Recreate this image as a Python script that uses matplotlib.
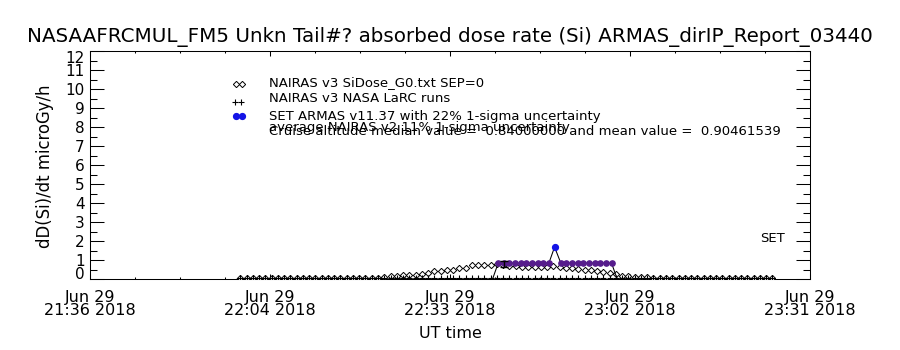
import matplotlib
matplotlib.use('Agg')
import matplotlib.pyplot as plt
import numpy as np
from matplotlib.lines import Line2D
from matplotlib.ticker import MultipleLocator, FixedLocator

plt.rcParams['font.family'] = ['DejaVu Sans']

title = "NASAAFRCMUL_FM5 Unkn Tail#? absorbed dose rate (Si) ARMAS_dirIP_Report_03440"
ylabel = "dD(Si)/dt microGy/h"
xlabel = "UT time"
legend_texts = ["NAIRAS v3 SiDose_G0.txt SEP=0",
                "NAIRAS v3 NASA LaRC runs",
                "SET ARMAS v11.37 with 22% 1-sigma uncertainty",
                "average NAIRAS v2 11% 1-sigma uncertainty",
                "Cruise altitude median value =  0.84000000 and mean value =  0.90461539"]

# x axis in minutes after 21:36 UT, 29 Jun 2018
x_tick_pos = [0, 28.75, 57.5, 86.25, 115]
x_tick_labels = ["Jun 29\n21:36 2018", "Jun 29\n22:04 2018", "Jun 29\n22:33 2018",
                 "Jun 29\n23:02 2018", "Jun 29\n23:31 2018"]
y_ticks = list(range(0, 13))

# NAIRAS v3 SEP=0 (diamonds), one value per minute from minute 24 to 109
nairas_t = np.arange(24, 110)
nairas_v = [0.07] * 23 + [
    0.12, 0.15, 0.17, 0.20, 0.22, 0.23, 0.25, 0.33, 0.40, 0.42,   # 47-56
    0.45, 0.50, 0.56, 0.60, 0.72, 0.75, 0.76, 0.76, 0.77, 0.72,   # 57-66
    0.68, 0.66, 0.64, 0.62, 0.62, 0.62, 0.64, 0.68, 0.65, 0.60,   # 67-76
    0.58, 0.52, 0.50, 0.45, 0.40, 0.37, 0.30, 0.25, 0.18, 0.14,   # 77-86
    0.12, 0.12, 0.10] + [0.07] * 20

# NAIRAS LaRC runs (+), near zero
larc_t = np.arange(24, 110)
larc_v = [0.03] * 86

# ARMAS
armas_t = [23.5, 64.3, 65.2, 66.1, 67.0, 67.9, 68.8, 69.7, 70.6, 71.5, 72.4, 73.3,
           74.2, 75.2, 76.1, 77.0, 77.9, 78.8, 79.7, 80.6, 81.5, 82.4, 83.3, 84.2, 109.0]
armas_v = [0.0, 0.0, 0.84, 0.84, 0.84, 0.84, 0.84, 0.84, 0.84, 0.84, 0.84, 0.84,
           1.68, 0.84, 0.84, 0.84, 0.84, 0.84, 0.84, 0.84, 0.84, 0.84, 0.84, 0.0, 0.0]
cruise_flag = [0, 0, 1, 1, 1, 1, 1, 1, 1, 1, 1, 1,
               0, 1, 1, 1, 1, 1, 1, 1, 1, 1, 1, 0, 0]

# average NAIRAS uncertainty bar
err_t = [66.2]
err_v = [0.80]
err_e = [0.15]

PURPLE = '#561c8c'
BLUE = '#1414e6'
LW = 0.75

fig = plt.figure(figsize=(9, 3.5), dpi=100)
ax = fig.add_axes([90/900, 71/350, 720/900, 228/350])
ax.set_xlim(0, 115)
ax.set_ylim(0, 12)

ax.plot(nairas_t, nairas_v, linestyle='none', marker='D', markersize=3.2,
        markerfacecolor='white', markeredgecolor='black', markeredgewidth=0.7, zorder=3)
ax.plot(larc_t, larc_v, linestyle='none', marker='+', markersize=4,
        color='black', markeredgewidth=0.8, zorder=3)
ax.plot(armas_t, armas_v, color='black', linewidth=LW, zorder=4)
ct = [t for t, f in zip(armas_t, cruise_flag) if f]
cv = [v for v, f in zip(armas_v, cruise_flag) if f]
ax.plot(ct, cv, linestyle='none', marker='o', markersize=3.8, color=PURPLE, zorder=5)
bt = [t for t, v, f in zip(armas_t, armas_v, cruise_flag) if (not f) and v > 0]
bv = [v for v, f in zip(armas_v, cruise_flag) if (not f) and v > 0]
ax.plot(bt, bv, linestyle='none', marker='o', markersize=4.2, color=BLUE, zorder=5)
ax.errorbar(err_t, err_v, yerr=err_e, fmt='none', ecolor='black', elinewidth=1.0,
            capsize=3, capthick=1.0, zorder=6)

# axes styling
for s in ax.spines.values():
    s.set_linewidth(LW)
ax.xaxis.set_major_locator(FixedLocator(x_tick_pos))
ax.xaxis.set_minor_locator(MultipleLocator(28.75 / 4))
ax.set_xticklabels(x_tick_labels)
ax.yaxis.set_major_locator(FixedLocator(y_ticks))
ax.yaxis.set_minor_locator(MultipleLocator(0.5))
ax.set_yticklabels([str(v) for v in y_ticks])
ax.tick_params(axis='x', which='major', direction='in', length=3.3, width=LW,
               top=True, labelsize=11.5, pad=8)
ax.tick_params(axis='x', which='minor', direction='in', length=1.7, width=LW, top=True)
ax.tick_params(axis='y', which='major', direction='in', length=10.4, width=LW,
               right=True, labelsize=11, pad=4)
ax.tick_params(axis='y', which='minor', direction='in', length=5.2, width=LW, right=True)
for lab in ax.get_xticklabels():
    lab.set_linespacing(0.85)
ylabs = ax.get_yticklabels()
ylabs[0].set_va('baseline')
ylabs[-1].set_va('top')

fig.text(0.5, 1 - 37/350, title, ha='center', va='center', fontsize=14.3)
fig.text(45/900, 1 - 166/350, ylabel, rotation=90, ha='center', va='center', fontsize=11.9)
fig.text(450/900, 1 - 333/350, xlabel, ha='center', va='center', fontsize=11.5)
fig.text(760/900, 1 - 241.5/350, "SET", ha='left', va='baseline', fontsize=9.5)

def fpt(x, y):
    return (x / 900, 1 - y / 350)

baselines = [85.7, 101.7, 120.3, 131.0, 135.0]
for txt, yb in zip(legend_texts, baselines):
    fx, fy = fpt(269, yb)
    fig.text(fx, fy, txt, ha='left', va='baseline', fontsize=9.5)

# legend symbols
for (x0, y0, m, kw) in [
        (236, 84, 'D', dict(markersize=3.2, markerfacecolor='white', markeredgecolor='black', markeredgewidth=0.7)),
        (242, 84, 'D', dict(markersize=3.2, markerfacecolor='white', markeredgecolor='black', markeredgewidth=0.7)),
        (235, 102, '+', dict(markersize=5, color='black', markeredgewidth=0.8)),
        (241, 102, '+', dict(markersize=5, color='black', markeredgewidth=0.8)),
        (236, 116, 'o', dict(markersize=4.2, color=BLUE)),
        (242, 116, 'o', dict(markersize=4.2, color=BLUE))]:
    fx, fy = fpt(x0, y0)
    fig.add_artist(Line2D([fx], [fy], marker=m, linestyle='none', transform=fig.transFigure, **kw))

fig.savefig('out.png', dpi=100)
